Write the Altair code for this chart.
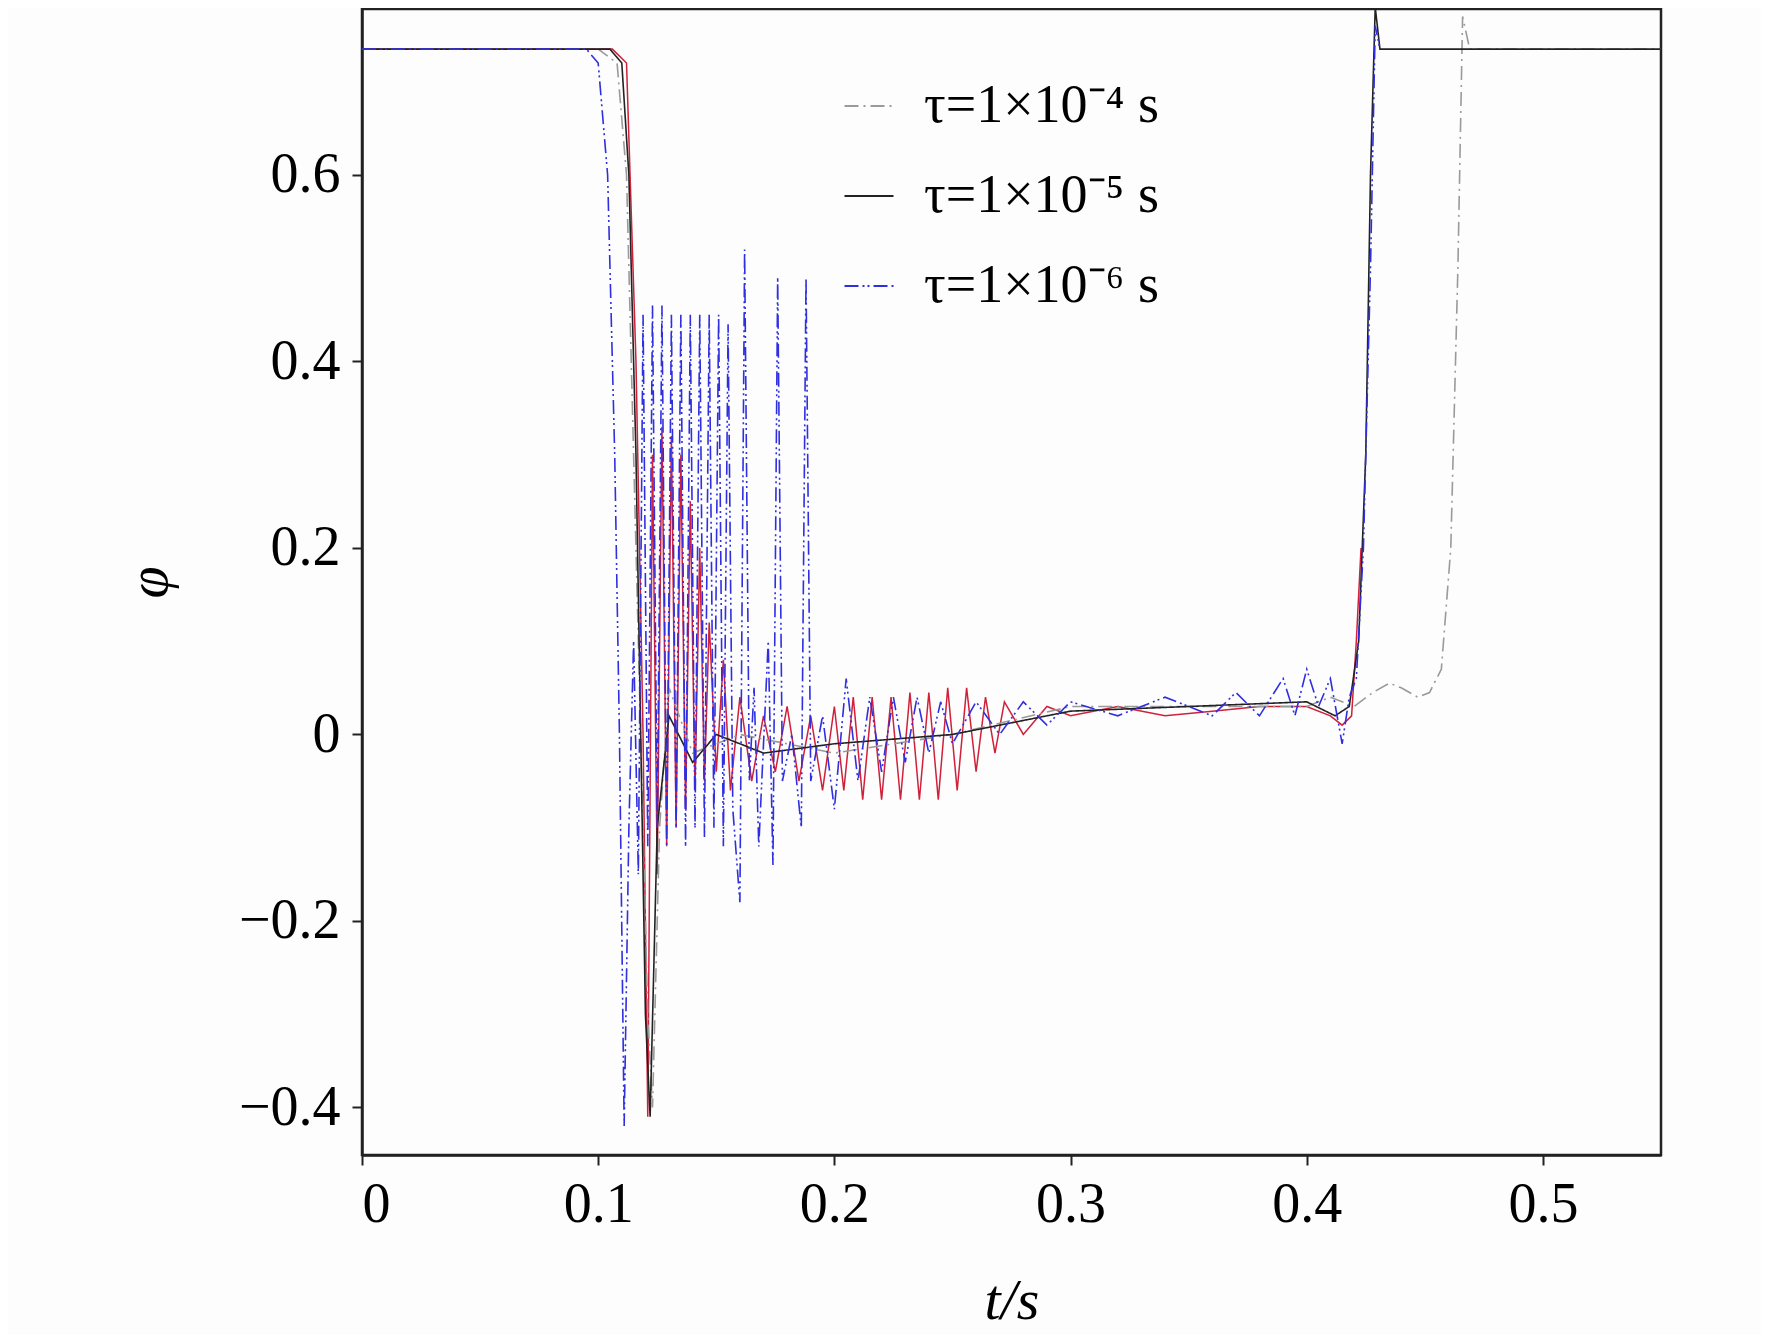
import pandas as pd
import altair as alt

FONT = "Liberation Serif"

# tau = 1e-4 s (grey dash-dot)
T_A = [0, 0.100, 0.108, 0.112, 0.115, 0.118, 0.121, 0.123, 0.126, 0.13, 0.14, 0.16, 0.2, 0.25, 0.3,
       0.35, 0.4, 0.41, 0.42, 0.428, 0.435, 0.44, 0.447, 0.452, 0.457, 0.461, 0.464, 0.466, 0.469, 0.55]
Y_A = [0.735, 0.735, 0.72, 0.6, 0.3, 0.0, -0.3, -0.40, -0.1, 0.05, -0.02, 0.0, -0.02, 0.0, 0.03,
       0.03, 0.03, 0.04, 0.03, 0.045, 0.055, 0.05, 0.04, 0.045, 0.07, 0.2, 0.5, 0.77, 0.735, 0.735]

# tau = 1e-5 s (black solid)
T_B = [0, 0.105, 0.110, 0.113, 0.116, 0.118, 0.120, 0.122, 0.125, 0.13, 0.14, 0.15, 0.17, 0.2,
       0.25, 0.3, 0.35, 0.4, 0.412, 0.418, 0.422, 0.425, 0.427, 0.429, 0.431, 0.55]
Y_B = [0.735, 0.735, 0.72, 0.6, 0.3, 0.0, -0.3, -0.41, -0.1, 0.02, -0.03, 0.0, -0.02, -0.01,
       0.0, 0.025, 0.03, 0.035, 0.02, 0.03, 0.1, 0.3, 0.6, 0.78, 0.735, 0.735]

# red companion trace (drawn under the legend series)
T_R = [0, 0.106, 0.112, 0.116, 0.119, 0.121, 0.123, 0.125, 0.127, 0.129, 0.131, 0.133, 0.135,
       0.137, 0.139, 0.141, 0.143, 0.145, 0.147, 0.150, 0.153, 0.156, 0.160, 0.165, 0.170,
       0.175, 0.180, 0.185, 0.190, 0.195, 0.200, 0.204, 0.208, 0.212, 0.216, 0.220, 0.224,
       0.228, 0.232, 0.236, 0.240, 0.244, 0.248, 0.252, 0.256, 0.260, 0.264, 0.268, 0.272,
       0.28, 0.29, 0.30, 0.32, 0.34, 0.36, 0.38, 0.40, 0.41, 0.415, 0.419, 0.421, 0.423]
Y_R = [0.735, 0.735, 0.72, 0.4, 0.0, -0.41, 0.3, -0.15, 0.33, -0.12, 0.32, -0.1, 0.3,
       -0.08, 0.25, -0.06, 0.2, -0.05, 0.12, -0.04, 0.08, -0.06, 0.04, -0.05, 0.02,
       -0.04, 0.03, -0.05, 0.02, -0.06, 0.03, -0.06, 0.04, -0.07, 0.04, -0.07, 0.04,
       -0.07, 0.045, -0.07, 0.045, -0.07, 0.05, -0.06, 0.05, -0.04, 0.04, -0.02, 0.035,
       0.0, 0.03, 0.02, 0.03, 0.02, 0.025, 0.03, 0.03, 0.02, 0.01, 0.02, 0.1, 0.2]

# tau = 1e-6 s (blue dash-dot-dot)
T_C = [0, 0.095, 0.100, 0.104, 0.107, 0.109, 0.111, 0.113, 0.115, 0.117, 0.119, 0.121, 0.123,
       0.125, 0.127, 0.129, 0.131, 0.133, 0.135, 0.137, 0.139, 0.141, 0.143, 0.145, 0.147,
       0.149, 0.151, 0.153, 0.155, 0.157, 0.160, 0.162, 0.164, 0.166, 0.168, 0.172, 0.174,
       0.176, 0.178, 0.182, 0.186, 0.188, 0.190, 0.195, 0.200, 0.205, 0.210, 0.215, 0.220,
       0.225, 0.230, 0.235, 0.240, 0.245, 0.250, 0.260, 0.270, 0.280, 0.290, 0.300, 0.320,
       0.340, 0.360, 0.370, 0.380, 0.390, 0.395, 0.400, 0.405, 0.410, 0.415, 0.418, 0.421,
       0.424, 0.427, 0.429, 0.431]
Y_C = [0.735, 0.735, 0.72, 0.6, 0.3, 0.0, -0.42, -0.1, 0.1, -0.15, 0.45, -0.12, 0.46,
       -0.1, 0.46, -0.12, 0.45, -0.1, 0.45, -0.12, 0.45, -0.1, 0.45, -0.11, 0.45,
       -0.1, 0.45, -0.12, 0.44, -0.08, -0.18, 0.52, -0.05, 0.05, -0.12, 0.1, -0.14,
       0.49, -0.05, 0.0, -0.1, 0.49, -0.05, 0.02, -0.08, 0.06, -0.05, 0.04, -0.04,
       0.04, -0.03, 0.04, -0.02, 0.035, -0.01, 0.035, 0.0, 0.035, 0.01, 0.035, 0.02,
       0.04, 0.02, 0.045, 0.02, 0.06, 0.02, 0.07, 0.03, 0.06, -0.01, 0.04, 0.06,
       0.2, 0.5, 0.76, 0.735]

LABELS = ["τ=1×10⁻⁴ s", "τ=1×10⁻⁵ s", "τ=1×10⁻⁶ s"]
COLORS = ["#9a9a9a", "#222222", "#2f2fe0"]
DASHES = [[14, 5, 2, 5], [1, 0], [14, 4, 2, 3, 2, 4]]

rows = []
for lab, ts, ys in zip(LABELS, [T_A, T_B, T_C], [Y_A, Y_B, Y_C]):
    for i, (t, y) in enumerate(zip(ts, ys)):
        rows.append({"series": lab, "t": t, "phi": y, "order": i})
df = pd.DataFrame(rows)
df_red = pd.DataFrame({"t": T_R, "phi": Y_R})

x = alt.X("t:Q", scale=alt.Scale(domain=[0, 0.55], nice=False),
          axis=alt.Axis(values=[0, 0.1, 0.2, 0.3, 0.4, 0.5], title="t/s", format="~g",
                        grid=False, titlePadding=40, labelPadding=12))
y = alt.Y("phi:Q", scale=alt.Scale(domain=[-0.451, 0.778], nice=False, zero=False),
          axis=alt.Axis(values=[-0.4, -0.2, 0, 0.2, 0.4, 0.6], title="φ", format="~g",
                        grid=False, titlePadding=60, labelPadding=12,
                        labelExpr="replace(datum.label, '-', '−')"))

red = alt.Chart(df_red).mark_line(color="#d0203a", strokeWidth=1.5, clip=True).encode(x=x, y=y)

lines = alt.Chart(df).mark_line(strokeWidth=1.6, clip=True).encode(
    x=x, y=y, order="order:Q",
    color=alt.Color("series:N", scale=alt.Scale(domain=LABELS, range=COLORS),
                    legend=alt.Legend(orient="none", legendX=480, legendY=70, title=None,
                                      symbolType="stroke", symbolSize=2400, symbolStrokeWidth=2,
                                      labelFontSize=54, labelFont=FONT, rowPadding=36,
                                      labelOffset=28, labelLimit=0)),
    strokeDash=alt.StrokeDash("series:N", scale=alt.Scale(domain=LABELS, range=DASHES),
                              legend=None),
)

chart = (red + lines).properties(
    width=1299, height=1146, background="#fdfdfd",
    autosize=alt.AutoSizeParams(type="none"),
    padding={"left": 354, "top": 1, "right": 100, "bottom": 180},
).configure_axis(
    labelFont=FONT, titleFont=FONT, labelFontSize=56, titleFontSize=58,
    titleFontWeight="normal", titleFontStyle="italic", labelColor="#000", titleColor="#000",
    domainColor="#222", domainWidth=2.5, tickColor="#222", tickWidth=2, tickSize=10,
).configure_view(stroke="#222", strokeWidth=2.5)

chart.save("out.html", embed_options={"renderer": "svg", "actions": False})
